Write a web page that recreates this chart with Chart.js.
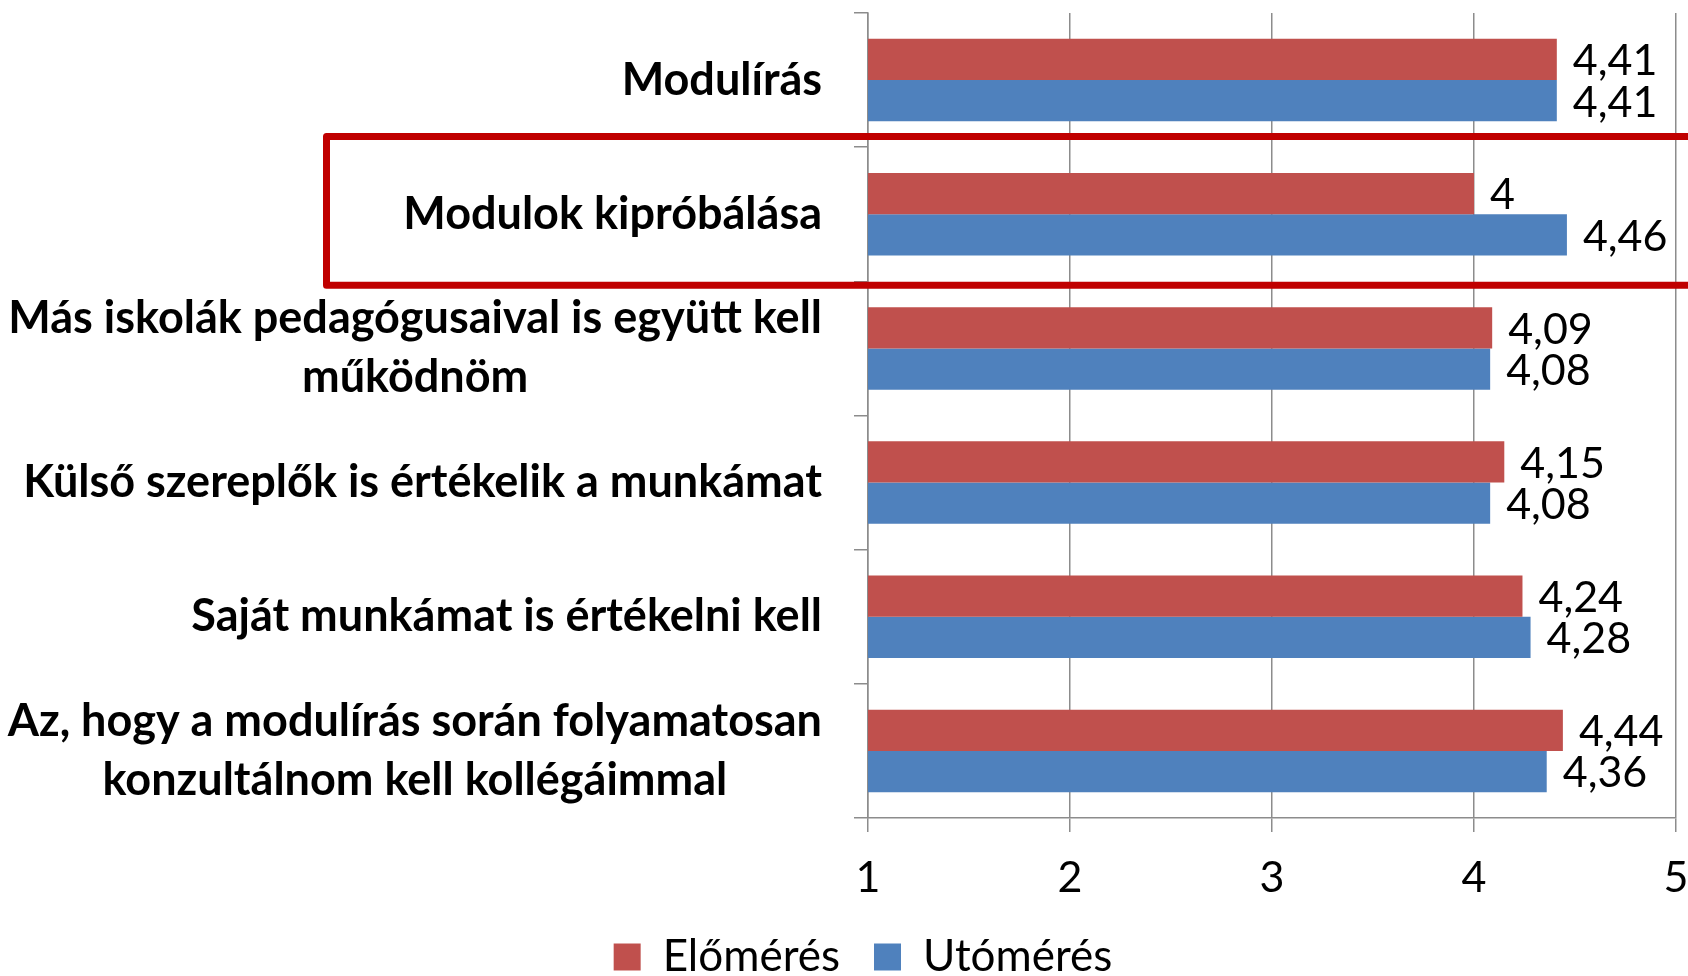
<!DOCTYPE html>
<html>
<head>
<meta charset="utf-8">
<script src="https://cdn.jsdelivr.net/npm/chart.js@4"></script>
<style>
html, body { margin: 0; padding: 0; background: #fff; }
#wrap { width: 1688px; height: 976px; }
</style>
</head>
<body>
<div id="wrap"><canvas id="chart"></canvas></div>
<script>
const categories = [
    'Modulírás',
    'Modulok kipróbálása',
    ['Más iskolák pedagógusaival is együtt kell', 'működnöm'],
    'Külső szereplők is értékelik a munkámat',
    'Saját munkámat is értékelni kell',
    ['Az, hogy a modulírás során folyamatosan', 'konzultálnom kell kollégáimmal']
];
const seriesNames = ['Előmérés', 'Utómérés'];
const preValues = [4.41, 4, 4.09, 4.15, 4.24, 4.44];
const postValues = [4.41, 4.46, 4.08, 4.08, 4.28, 4.36];
const xMin = 1;
const xMax = 5;
const highlightIndex = 1; // the boxed category

const FONT = 'Lato, "Open Sans", sans-serif';
const GRID = '#8c8c8c';

function fmt(v) {
    return String(v).replace('.', ',');
}

// category labels: right edge fixed, lines of a label centred on each other
const categoryLabels = {
    id: 'categoryLabels',
    afterDraw(chart) {
        const ctx = chart.ctx;
        const y = chart.scales.y;
        const right = y.right - 46;
        ctx.save();
        ctx.font = 'bold 45px ' + FONT;
        ctx.fillStyle = '#000';
        ctx.textBaseline = 'middle';
        ctx.textAlign = 'center';
        categories.forEach((label, i) => {
            const lines = Array.isArray(label) ? label : [label];
            const maxW = Math.max(...lines.map(l => ctx.measureText(l).width));
            const cy = y.getPixelForTick(i);
            lines.forEach((l, j) => {
                ctx.fillText(l, right - maxW / 2, cy + (j - (lines.length - 1) / 2) * 59);
            });
        });
        ctx.restore();
    }
};

const valueLabels = {
    id: 'valueLabels',
    afterDatasetsDraw(chart) {
        const ctx = chart.ctx;
        ctx.save();
        ctx.font = '43px ' + FONT;
        ctx.fillStyle = '#000';
        ctx.textBaseline = 'middle';
        ctx.textAlign = 'left';
        chart.data.datasets.forEach((ds, d) => {
            chart.getDatasetMeta(d).data.forEach((bar, i) => {
                ctx.fillText(fmt(ds.data[i]), bar.x + 16, bar.y + 2);
            });
        });
        ctx.restore();
    }
};

const highlightBox = {
    id: 'highlightBox',
    afterDraw(chart) {
        const ctx = chart.ctx;
        const y = chart.scales.y;
        const band = y.getPixelForTick(1) - y.getPixelForTick(0);
        const cy = y.getPixelForTick(highlightIndex);
        const top = cy - 0.58 * band;
        const bottom = cy + 0.53 * band;
        ctx.save();
        ctx.strokeStyle = '#C00000';
        ctx.lineWidth = 7;
        ctx.lineJoin = 'round';
        ctx.strokeRect(326.5, top, chart.width + 20 - 326.5, bottom - top);
        ctx.restore();
    }
};

new Chart(document.getElementById('chart'), {
    type: 'bar',
    data: {
        labels: categories,
        datasets: [{
            label: seriesNames[0],
            data: preValues,
            backgroundColor: '#C0504D'
        }, {
            label: seriesNames[1],
            data: postValues,
            backgroundColor: '#4F81BD'
        }]
    },
    options: {
        indexAxis: 'y',
        responsive: true,
        maintainAspectRatio: false,
        devicePixelRatio: 1,
        animation: false,
        categoryPercentage: 0.615,
        barPercentage: 1,
        layout: { padding: { top: 13, right: 12, left: 50, bottom: -13 } },
        scales: {
            x: {
                min: xMin,
                max: xMax,
                ticks: {
                    stepSize: 1,
                    color: '#000',
                    padding: 20,
                    font: { family: FONT, size: 43 }
                },
                grid: { color: GRID, lineWidth: 1.5, tickLength: 14 },
                border: { color: GRID, width: 1.5 },
                afterFit: s => { s.paddingRight = 0; s.height = 83; }
            },
            y: {
                ticks: { display: false },
                grid: { drawOnChartArea: false, color: GRID, lineWidth: 1.5, tickLength: 14 },
                border: { color: GRID, width: 1.5 },
                afterFit: s => { s.width = 818; }
            }
        },
        plugins: {
            legend: {
                position: 'bottom',
                labels: {
                    boxWidth: 27,
                    boxHeight: 27,
                    padding: 34,
                    color: '#000',
                    font: { family: FONT, size: 44 }
                }
            },
            tooltip: { enabled: false }
        }
    },
    plugins: [categoryLabels, valueLabels, highlightBox]
});
</script>
</body>
</html>
